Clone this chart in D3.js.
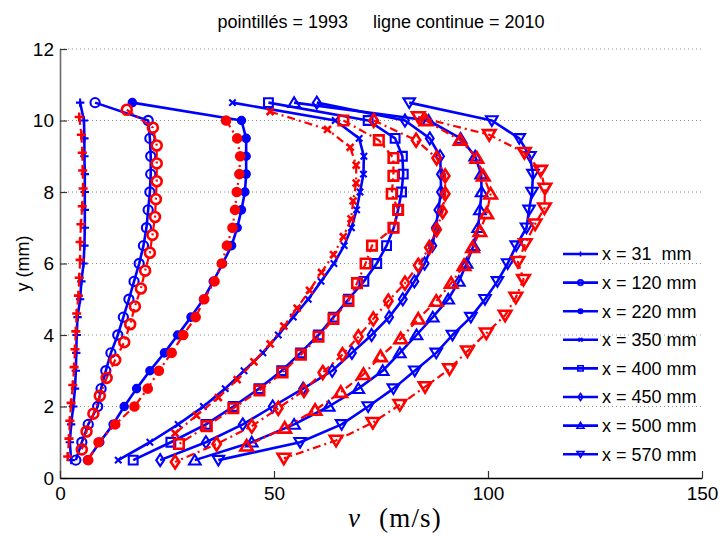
<!DOCTYPE html>
<html>
<head>
<meta charset="utf-8">
<script src="https://cdn.jsdelivr.net/npm/d3@7"></script>
<style>
  body { margin: 0; background: #fff; }
  svg { display: block; font-family: "Liberation Sans", Arial, sans-serif; }
</style>
</head>
<body>
<svg id="chart"></svg>
<script>
// HEIGHTS OF THE 2010 PROFILES (mm), SHARED BY ALL SOLID CURVES
let h2010 = [10.5, 10, 9.5, 9, 8.5, 8, 7.5, 7, 6.5, 6, 5.5, 5, 4.5, 4, 3.5, 3, 2.5, 2, 1.5, 1, 0.5];

// 2010 VELOCITIES (m/s)
let v2010_31 = [4.7, 5.6, 5.7, 5.7, 5.8, 5.8, 5.8, 5.8, 5.7, 5.5, 5.0, 4.7, 4.1, 3.9, 3.8, 3.7, 3.5, 3.1, 2.6, 2.3, 2.6];
let v2010_120 = [8.2, 20.6, 21.0, 21.2, 21.2, 21.0, 20.6, 20.2, 19.5, 18.5, 17.3, 16.1, 14.8, 13.5, 11.9, 10.7, 9.6, 8.8, 6.6, 5.1, 3.7];
let v2010_220 = [16.9, 42.4, 43.5, 43.5, 43.5, 43.2, 42.4, 41.4, 40.1, 38.0, 35.8, 33.5, 30.6, 27.5, 24.4, 21.0, 17.9, 15.0, 12.4, 9.3, 6.4];
let v2010_350 = [40.3, 64.3, 69.9, 71.0, 70.9, 70.1, 69.3, 68.1, 66.4, 64.0, 61.0, 58.0, 54.5, 51.0, 47.4, 43.0, 38.6, 33.5, 27.6, 21.0, 13.6];
let v2010_400 = [48.7, 72.0, 78.3, 80.0, 80.2, 79.8, 79.0, 78.0, 76.3, 74.0, 71.0, 67.4, 63.9, 60.4, 56.2, 51.8, 46.5, 40.5, 34.1, 25.9, 17.1];
let v2010_450 = [60.0, 80.6, 86.4, 88.8, 89.0, 89.0, 88.4, 87.8, 87.0, 85.2, 82.8, 80.1, 76.9, 72.8, 68.2, 63.6, 56.8, 49.7, 42.7, 34.1, 23.4];
let v2010_500 = [54.7, 86.1, 93.6, 97.0, 98.4, 98.5, 98.1, 97.7, 96.6, 95.0, 93.2, 90.7, 87.1, 83.3, 79.4, 75.4, 69.7, 62.8, 54.7, 44.8, 31.5];
let v2010_570 = [81.6, 100.9, 107.3, 109.8, 110.5, 110.3, 109.6, 109.0, 106.6, 104.6, 102.2, 99.3, 96.0, 91.7, 87.9, 82.9, 77.9, 72.0, 65.8, 56.1, 37.0];

// 1993 PROFILES (DASH-DOT), EACH WITH ITS OWN HEIGHTS
let h1993_31 = [10.1, 9.6, 9.1, 8.6, 8.1, 7.6, 7.1, 6.6, 6.1, 5.6, 5.1, 4.6, 4.1, 3.6, 3.1, 2.6, 2.1, 1.6, 1.1, 0.6];
let v1993_31 = [4.5, 5.0, 5.2, 5.3, 5.4, 5.2, 4.9, 4.7, 4.7, 4.5, 4.3, 3.9, 3.7, 3.5, 3.3, 3.0, 2.6, 2.3, 2.1, 1.8];
let h1993_120 = [10.3, 9.8, 9.3, 8.8, 8.3, 7.8, 7.3, 6.8, 6.3, 5.8, 5.3, 4.8, 4.3, 3.8, 3.3, 2.8, 2.3, 1.8, 1.3, 0.8];
let v1993_120 = [15.6, 21.7, 22.6, 22.6, 22.6, 22.4, 22.2, 21.6, 21.0, 19.9, 18.9, 17.5, 16.4, 15.0, 12.9, 10.9, 9.3, 7.8, 6.2, 5.1];
let h1993_220 = [10.0, 9.5, 9.0, 8.5, 8.0, 7.5, 7.0, 6.5, 6.0, 5.5, 5.0, 4.5, 4.0, 3.5, 3.0, 2.5, 2.0, 1.5, 1.0, 0.5];
let v1993_220 = [38.8, 41.4, 42.1, 41.9, 41.3, 40.9, 40.3, 39.0, 37.8, 36.1, 33.7, 31.7, 28.8, 26.1, 23.1, 20.5, 17.4, 12.9, 9.0, 6.6];
let h1993_350 = [10.25, 9.75, 9.25, 8.75, 8.25, 7.75, 7.25, 6.75, 6.25, 5.75, 5.25, 4.75, 4.25, 3.75, 3.25, 2.75, 2.25, 1.75, 1.25];
let v1993_350 = [49.1, 62.5, 67.8, 69.2, 69.2, 68.5, 68.0, 66.2, 63.9, 61.1, 58.3, 55.4, 52.3, 49.1, 45.3, 41.4, 37.0, 31.9, 26.9];
let h1993_400 = [10.0, 9.45, 8.95, 8.45, 7.95, 7.5, 7.0, 6.5, 6.0, 5.45, 4.95, 4.45, 3.95, 3.45, 2.95, 2.45, 1.95, 1.45, 0.95];
let v1993_400 = [66.2, 74.5, 77.9, 77.9, 77.5, 79.0, 77.9, 72.9, 71.4, 69.4, 67.4, 63.9, 60.4, 56.3, 52.0, 46.6, 40.5, 34.3, 27.8];
let h1993_450 = [10.0, 9.45, 8.95, 8.45, 7.95, 7.45, 6.95, 6.45, 5.95, 5.45, 4.95, 4.45, 3.95, 3.45, 2.95, 2.45, 1.95, 1.45, 0.95, 0.45];
let v1993_450 = [73.3, 83.2, 88.0, 90.0, 90.0, 89.4, 88.0, 86.3, 83.7, 80.6, 76.7, 73.2, 69.7, 66.0, 61.4, 57.0, 51.0, 44.8, 36.6, 26.9];
let h1993_500 = [10.0, 9.45, 8.95, 8.45, 7.95, 7.4, 6.9, 6.45, 5.95, 5.45, 4.95, 4.45, 3.9, 3.4, 2.9, 2.4, 1.9, 1.4, 0.9];
let v1993_500 = [85.5, 93.5, 97.4, 98.9, 100.6, 99.7, 98.1, 96.4, 94.4, 91.4, 87.9, 83.7, 79.6, 74.9, 70.9, 65.6, 59.6, 52.5, 43.6];
let h1993_570 = [10.1, 9.6, 9.1, 8.6, 8.1, 7.55, 7.1, 6.55, 6.05, 5.55, 5.05, 4.55, 4.05, 3.55, 3.05, 2.55, 2.05, 1.55, 1.05, 0.55];
let v1993_570 = [83.7, 100.3, 108.5, 112.3, 113.3, 113.2, 111.0, 108.7, 107.0, 108.3, 106.5, 104.0, 99.6, 95.2, 91.0, 85.3, 79.4, 73.1, 64.5, 52.3];

// LABELS AND TICKS
let legendLabels = ["x = 31  mm", "x = 120 mm", "x = 220 mm", "x = 350 mm", "x = 400 mm", "x = 450 mm", "x = 500 mm", "x = 570 mm"];
let markers = ["plus", "circle", "dot", "cross", "square", "diamond", "up", "down"];
let xTicks = [0, 50, 100, 150];
let yTicks = [0, 2, 4, 6, 8, 10, 12];
let title = "pointillés = 1993     ligne continue = 2010";

let series2010 = [v2010_31, v2010_120, v2010_220, v2010_350, v2010_400, v2010_450, v2010_500, v2010_570].map(function(v, i) {
  return { marker: markers[i], label: legendLabels[i], pts: v.map(function(d, j) { return { v: d, h: h2010[j] }; }) };
});
let series1993 = [
  [v1993_31, h1993_31], [v1993_120, h1993_120], [v1993_220, h1993_220], [v1993_350, h1993_350],
  [v1993_400, h1993_400], [v1993_450, h1993_450], [v1993_500, h1993_500], [v1993_570, h1993_570]
].map(function(p, i) {
  return { marker: markers[i], pts: p[0].map(function(d, j) { return { v: d, h: p[1][j] }; }) };
});

//MARKER SHAPES
function markerPath(type, k) {
  let s;
  switch (type) {
    case "plus": s = 4.2 * k; return "M" + -s + ",0H" + s + "M0," + -s + "V" + s;
    case "cross": s = 3.2 * k; return "M" + -s + "," + -s + "L" + s + "," + s + "M" + -s + "," + s + "L" + s + "," + -s;
    case "circle": s = 4.6 * k; return "M" + s + ",0A" + s + "," + s + " 0 1,1 " + -s + ",0A" + s + "," + s + " 0 1,1 " + s + ",0Z";
    case "dot": s = 3.7 * k; return "M" + s + ",0A" + s + "," + s + " 0 1,1 " + -s + ",0A" + s + "," + s + " 0 1,1 " + s + ",0Z";
    case "square": s = 4.4 * k; return "M" + -s + "," + -s + "H" + s + "V" + s + "H" + -s + "Z";
    case "diamond": return "M0," + -6 * k + "L" + 3.9 * k + ",0L0," + 6 * k + "L" + -3.9 * k + ",0Z";
    case "up": return "M0," + -5.4 * k + "L" + 5.8 * k + "," + 4.3 * k + "L" + -5.8 * k + "," + 4.3 * k + "Z";
    case "down": return "M0," + 5.4 * k + "L" + 5.8 * k + "," + -4.3 * k + "L" + -5.8 * k + "," + -4.3 * k + "Z";
  }
}

let svgWidth = 720;
let svgHeight = 538;
let margin = { top: 49, right: 18, bottom: 60, left: 60 };
let width = svgWidth - margin.left - margin.right;
let height = svgHeight - margin.top - margin.bottom;
let blue = "#0000ff";
let red = "#ff0000";

let svg = d3.select("#chart").attr("width", svgWidth).attr("height", svgHeight);
let g = svg.append("g").attr("transform", "translate(" + margin.left + "," + margin.top + ")");

//SCALES
let x = d3.scaleLinear().domain([0, 150]).range([0, width]);
let y = d3.scaleLinear().domain([0, 12]).range([height, 0]);

//DOTTED HORIZONTAL GRID
g.append("g")
  .selectAll("line")
  .data(yTicks.slice(1))
  .enter()
  .append("line")
  .attr("x1", 0)
  .attr("x2", width)
  .attr("y1", function(d) { return y(d); })
  .attr("y2", function(d) { return y(d); })
  .attr("stroke", "#8c8c8c")
  .attr("stroke-width", 1)
  .attr("stroke-dasharray", "1,3");

//AXES (TICKS POINT INWARD, NO BOX)
let yAxis = g.append("g")
  .call(d3.axisLeft(y).tickValues(yTicks).tickSize(-7).tickSizeOuter(0).tickPadding(6));
let xAxis = g.append("g")
  .attr("transform", "translate(0," + height + ")")
  .call(d3.axisBottom(x).tickValues(xTicks).tickSize(-7).tickSizeOuter(0).tickPadding(9));
yAxis.select(".domain").attr("stroke", "#6a6a6a").attr("stroke-width", 1.6);
xAxis.select(".domain").attr("stroke", "#000").attr("stroke-width", 1.6);
[xAxis, yAxis].forEach(function(a) {
  a.selectAll(".tick line").attr("stroke", "#333").attr("stroke-width", 1.2);
  a.selectAll(".tick text")
    .attr("fill", "#000")
    .style("font-family", "'Liberation Sans', Arial, sans-serif")
    .style("font-size", "19px");
});

//CURVES
let line = d3.line()
  .x(function(d) { return x(d.v); })
  .y(function(d) { return y(d.h); });

function drawSeries(s, color, dashed) {
  let sg = g.append("g");
  sg.append("path")
    .datum(s.pts)
    .attr("fill", "none")
    .attr("stroke", color)
    .attr("stroke-width", dashed ? 2.2 : 2.6)
    .attr("stroke-dasharray", dashed ? "8,4,2,4" : null)
    .attr("stroke-linejoin", "round")
    .attr("d", line);
  sg.selectAll(".mk")
    .data(s.pts)
    .enter()
    .append("path")
    .attr("transform", function(d) { return "translate(" + x(d.v) + "," + y(d.h) + ")"; })
    .attr("d", markerPath(s.marker, dashed ? 1.08 : 1))
    .attr("fill", s.marker === "dot" ? color : "none")
    .attr("stroke", color)
    .attr("stroke-width", dashed ? 2.6 : 2.1);
}
series2010.forEach(function(s) { drawSeries(s, blue, false); });
series1993.forEach(function(s) { drawSeries(s, red, true); });

//LEGEND (2010 ONLY, NO FRAME)
let legend = svg.append("g").attr("transform", "translate(563,254)");
series2010.forEach(function(s, i) {
  let row = legend.append("g").attr("transform", "translate(0," + i * 28.6 + ")");
  row.append("line")
    .attr("x1", 0).attr("x2", 35)
    .attr("stroke", blue).attr("stroke-width", 2.6);
  row.append("path")
    .attr("transform", "translate(17.5,0)")
    .attr("d", markerPath(s.marker, 0.6))
    .attr("fill", s.marker === "dot" ? blue : "none")
    .attr("stroke", blue)
    .attr("stroke-width", 1.6);
  row.append("text")
    .attr("x", 39)
    .attr("y", 0)
    .attr("dy", "0.35em")
    .style("font-size", "18px")
    .style("white-space", "pre")
    .attr("xml:space", "preserve")
    .text(s.label);
});

//TITLE AND AXIS LABELS
svg.append("text")
  .attr("x", margin.left + width / 2)
  .attr("y", 28)
  .attr("text-anchor", "middle")
  .style("font-size", "18px")
  .style("white-space", "pre")
  .attr("xml:space", "preserve")
  .text(title);
svg.append("text")
  .attr("transform", "translate(29," + (margin.top + height / 2) + ") rotate(-90)")
  .attr("text-anchor", "middle")
  .style("font-size", "18px")
  .text("y (mm)");
let xl = svg.append("g").style("font-family", "'Liberation Serif', 'DejaVu Serif', serif").style("font-size", "27px");
xl.append("text")
  .attr("x", 354)
  .attr("y", 527)
  .attr("text-anchor", "middle")
  .style("font-style", "italic")
  .text("v");
xl.append("text")
  .attr("x", 379)
  .attr("y", 527)
  .style("letter-spacing", "1.2px")
  .text("(m/s)");
</script>
</body>
</html>
